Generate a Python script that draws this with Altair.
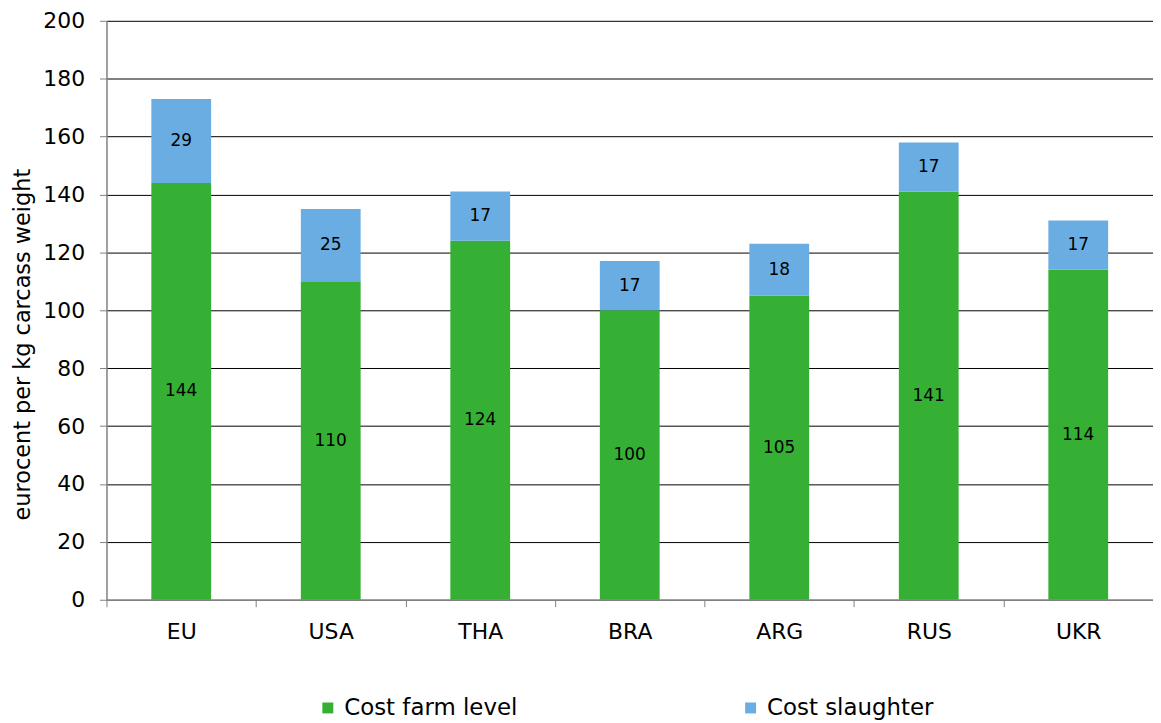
import altair as alt
import pandas as pd

countries = ["EU", "USA", "THA", "BRA", "ARG", "RUS", "UKR"]
farm = [144, 110, 124, 100, 105, 141, 114]
slaughter = [29, 25, 17, 17, 18, 17, 17]
series = ["Cost farm level", "Cost slaughter"]
colors = ["#35B035", "#6AADE3"]

rows = []
for c, f, s in zip(countries, farm, slaughter):
    rows.append({"country": c, "series": series[0], "value": f, "order": 0})
    rows.append({"country": c, "series": series[1], "value": s, "order": 1})
df = pd.DataFrame(rows)

font = "DejaVu Sans"

x = alt.X(
    "country:N", sort=countries, title=None,
    scale=alt.Scale(paddingInner=0, paddingOuter=0),
    axis=alt.Axis(labelAngle=0, tickBand="extent", tickSize=7, labelFontSize=22,
                  labelPadding=15, labelColor="black", labelFont=font,
                  domainColor="#808080", tickColor="#808080", domainWidth=1.5),
)

base = alt.Chart(df).transform_stack(
    stack="value", as_=["y0", "y1"], groupby=["country"],
    sort=[alt.SortField("order")]
).transform_calculate(mid="(datum.y0 + datum.y1) / 2")

y = alt.Y(
    "y0:Q", scale=alt.Scale(domain=[0, 200]),
    axis=alt.Axis(values=list(range(0, 201, 20)), title="eurocent per kg carcass weight",
                  titleFontSize=22.5, titleFont=font, titleFontWeight="normal", titleColor="black",
                  titlePadding=8, titleY=325, labelFontSize=22, labelFont=font, labelColor="black",
                  labelPadding=15, tickSize=7, gridColor="black", gridWidth=1,
                  domainColor="#808080", tickColor="#808080", domainWidth=1.5),
)

bars = base.mark_bar(width=alt.RelativeBandSize(0.4)).encode(
    x=x,
    y=y,
    y2="y1:Q",
    color=alt.Color(
        "series:N", scale=alt.Scale(domain=series, range=colors),
        legend=alt.Legend(title=None, orient="none", legendX=211, legendY=679,
                          direction="horizontal", symbolType="square", symbolSize=121,
                          symbolStrokeWidth=0, labelFontSize=23, labelFont=font,
                          labelColor="black", labelOffset=5, labelLimit=400,
                          columnPadding=222, padding=0),
    ),
)

labels = base.mark_text(fontSize=17, font=font, color="black").encode(
    x=x,
    y=alt.Y("mid:Q"),
    text="value:Q",
)

chart = alt.layer(bars, labels).properties(
    width=1052, height=582,
    autosize=alt.AutoSizeParams(type="none"),
    padding={"left": 99, "top": 11, "right": 0, "bottom": 122},
).configure_view(strokeWidth=0)

chart.save("out.html", embed_options={"renderer": "svg", "actions": False})
